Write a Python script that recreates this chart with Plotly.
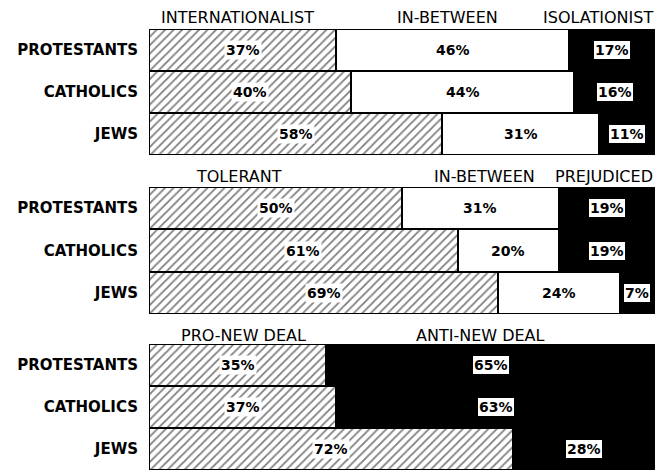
import plotly.graph_objects as go

groups = ["PROTESTANTS", "CATHOLICS", "JEWS"]

# Panel 1: foreign policy
intl = [37, 40, 58]
intl_between = [46, 44, 31]
isolationist = [17, 16, 11]

# Panel 2: tolerance
tolerant = [50, 61, 69]
tol_between = [31, 20, 24]
prejudiced = [19, 19, 7]

# Panel 3: New Deal
pro_nd = [35, 37, 72]
anti_nd = [65, 63, 28]

panels = [
    [("INTERNATIONALIST", intl, "hatch"), ("IN-BETWEEN", intl_between, "white"), ("ISOLATIONIST", isolationist, "black")],
    [("TOLERANT", tolerant, "hatch"), ("IN-BETWEEN", tol_between, "white"), ("PREJUDICED", prejudiced, "black")],
    [("PRO-NEW DEAL", pro_nd, "hatch"), ("ANTI-NEW DEAL", anti_nd, "black")],
]

W, H = 658, 470
x0, x1 = 149, 655
ydoms = [(29, 155), (187, 314), (344, 470)]
head_y = [17, 176, 335]
# heading positions (data x, anchor)
head_pos = [
    [(17.4, "center"), (58.9, "center"), (100, "right")],
    [(17.8, "center"), (66.4, "center"), (100, "right")],
    [(18.6, "center"), (65.6, "center")],
]

FONT = "DejaVu Sans"
fig = go.Figure()
annotations = []

for i, panel in enumerate(panels):
    xa = "x" if i == 0 else f"x{i+1}"
    ya = "y" if i == 0 else f"y{i+1}"
    cum = [0, 0, 0]
    for j, (name, vals, style) in enumerate(panel):
        if style == "hatch":
            marker = dict(color="white",
                          pattern=dict(shape="/", fgcolor="black", bgcolor="white", size=6, solidity=0.3),
                          line=dict(color="black", width=2))
        elif style == "white":
            marker = dict(color="white", line=dict(color="black", width=2))
        else:
            marker = dict(color="black", line=dict(color="black", width=2))
        fig.add_trace(go.Bar(x=vals, y=groups, orientation="h", marker=marker,
                             xaxis=xa, yaxis=ya, name=name, showlegend=False))
        for k, v in enumerate(vals):
            center = cum[k] + v / 2
            ann = dict(x=center, y=groups[k], xref=xa, yref=ya, text=f"{v}%",
                       showarrow=False, font=dict(family=FONT, size=14, color="black", weight="bold"),
                       bgcolor="white", borderpad=1)
            if style == "black":
                ann.update(bordercolor="black", borderwidth=1)
            annotations.append(ann)
            cum[k] += v
        hx, hanchor = head_pos[i][j]
        annotations.append(dict(x=hx, xref=xa, y=1 - head_y[i] / H, yref="paper", text=name,
                                xanchor=hanchor, yanchor="middle", showarrow=False,
                                font=dict(family=FONT, size=16, color="black")))

layout_axes = {}
for i, (t, b) in enumerate(ydoms):
    xk = "xaxis" if i == 0 else f"xaxis{i+1}"
    yk = "yaxis" if i == 0 else f"yaxis{i+1}"
    ya = "y" if i == 0 else f"y{i+1}"
    layout_axes[xk] = dict(domain=[x0 / W, x1 / W], range=[0, 100], visible=False,
                           anchor=ya, fixedrange=True, automargin=False)
    layout_axes[yk] = dict(domain=[max(0, 1 - b / H), 1 - t / H], range=[2.5, -0.5],
                           type="category", categoryorder="array", categoryarray=groups,
                           showgrid=False, zeroline=False, showline=False, ticks="",
                           ticklabelstandoff=10, automargin=False,
                           tickfont=dict(family=FONT, size=15, color="black", weight="bold"),
                           anchor="x" if i == 0 else f"x{i+1}")

fig.update_layout(width=W, height=H, margin=dict(l=0, r=0, t=0, b=0),
                  paper_bgcolor="white", plot_bgcolor="white",
                  barmode="stack", bargap=0, annotations=annotations, **layout_axes)

fig.write_html("out.html", config={"displayModeBar": False},
               post_script="document.body.style.margin='0';document.body.style.overflow='hidden';")
